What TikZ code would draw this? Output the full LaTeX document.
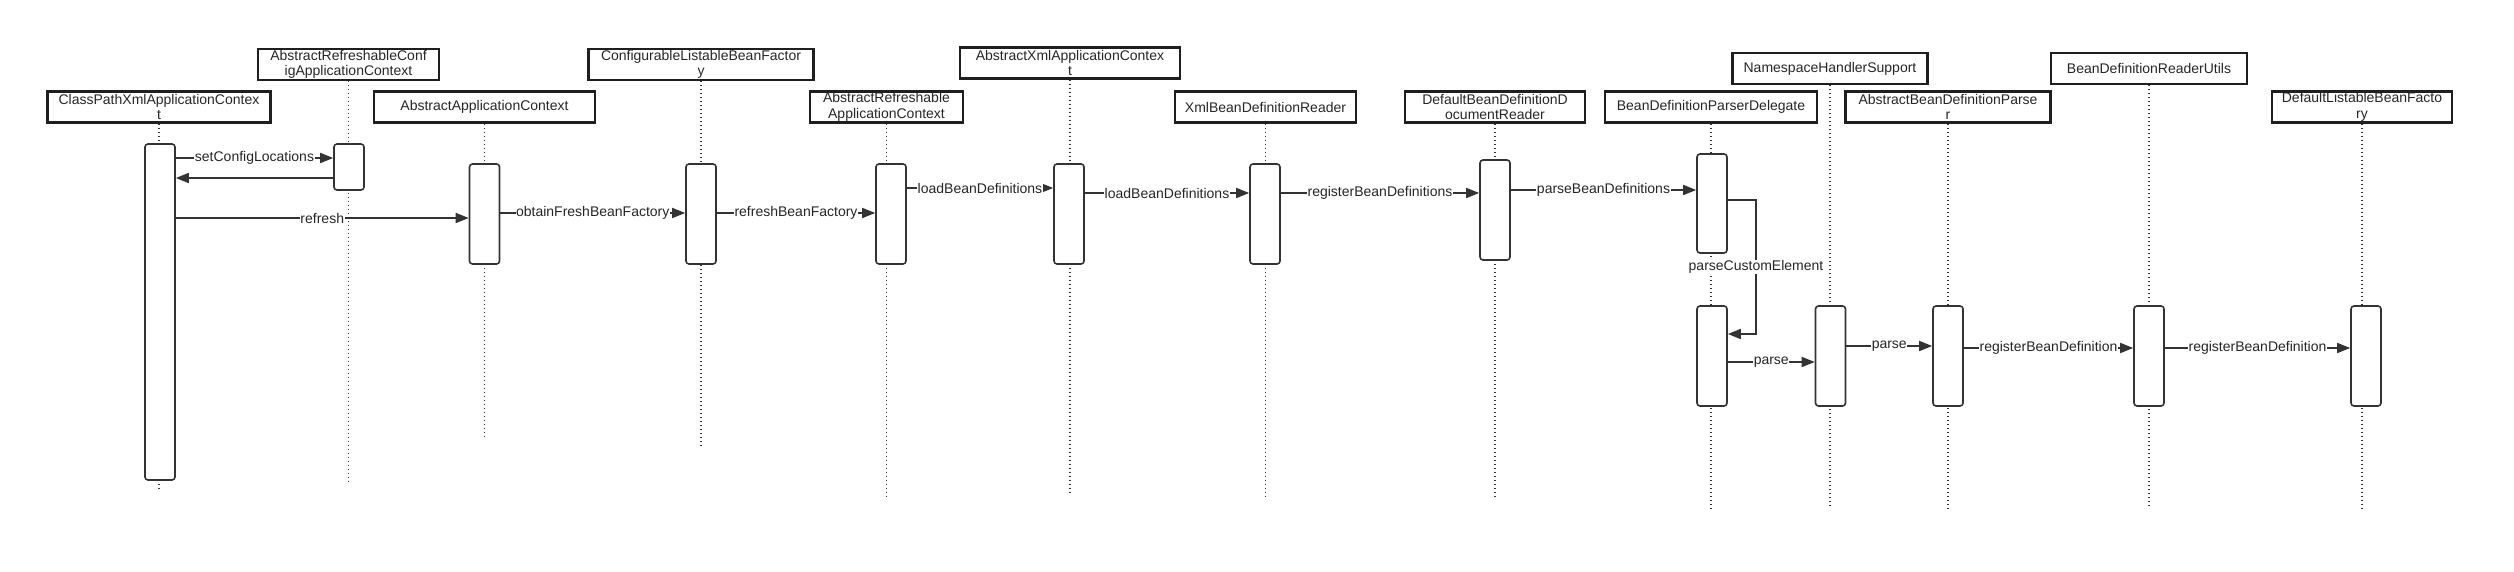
\documentclass[tikz,border=0pt]{standalone}
\usepackage{fontspec}
\setmainfont{Liberation Sans}
\usetikzlibrary{arrows.meta}

\definecolor{viiva}{HTML}{333333}

\begin{document}
\begin{tikzpicture}[x=1pt,y=-1pt,
  olio/.style={draw=black!88, line width=2.1pt, minimum height=31pt, inner sep=0pt, align=center, text=black!85, font=\fontsize{14}{15.5}\selectfont},
  palkki/.style={draw=viiva, fill=white, line width=1.6pt, rounded corners=3pt, minimum width=30pt, inner sep=0pt},
  elama/.style={draw=viiva, line width=1.4pt, dash pattern=on 1.4pt off 2.6pt},
  viesti/.style={draw=viiva, line width=1.7pt, -{Triangle[length=13pt,width=10pt]}},
  nimi/.style={fill=white, inner sep=0.5pt, text=black!85, font=\fontsize{14}{15.5}\selectfont}]
\useasboundingbox (0,0) rectangle (2514,572);
\newcommand\olio[6]{
\node[olio, minimum width=#4] (#1) at (#2,#3) {#5};
\path[elama] (#1.south) -- (#1.south |- 0,#6);
}
\newcommand\viesti[4]{
\path[viesti] (#2.east |- 0,#1) -- node[nimi] {#4} (#3.west |- 0,#1);
}
% luokat ja elamanviivat
\olio{o1}{159}{107}{223}{ClassPathXmlApplicationContex\\t}{488}
\olio{o2}{348.5}{64.5}{181}{AbstractRefreshableConf\\igApplicationContext}{482}
\olio{o3}{484.5}{107}{221}{AbstractApplicationContext}{439}
\olio{o4}{701}{64.5}{225}{ConfigurableListableBeanFactor\\y}{447}
\olio{o5}{886.5}{107}{153}{AbstractRefreshable\\ApplicationContext}{498}
\olio{o6}{1070}{63}{220}{AbstractXmlApplicationContex\\t}{494}
\olio{o7}{1265.5}{107}{181}{XmlBeanDefinitionReader}{498}
\olio{o8}{1495}{107}{180}{DefaultBeanDefinitionD\\ocumentReader}{498}
\olio{o9}{1711}{107}{212}{BeanDefinitionParserDelegate}{509}
\olio{o10}{1830}{68.5}{195}{NamespaceHandlerSupport}{509}
\olio{o11}{1948}{107}{205}{AbstractBeanDefinitionParse\\r}{509}
\olio{o12}{2149}{68.5}{196}{BeanDefinitionReaderUtils}{509}
\olio{o13}{2362}{107}{180}{DefaultListableBeanFacto\\ry}{509}
% aktivoinnit
\node[palkki, minimum height=336] (a1) at (160,312) {};
\node[palkki, minimum height=46] (a2) at (349,167) {};
\node[palkki, minimum height=100] (a3) at (484.5,214) {};
\node[palkki, minimum height=100] (a4) at (701,214) {};
\node[palkki, minimum height=100] (a5) at (891,214) {};
\node[palkki, minimum height=100] (a6) at (1069,214) {};
\node[palkki, minimum height=100] (a7) at (1265,214) {};
\node[palkki, minimum height=100] (a8) at (1495,210) {};
\node[palkki, minimum height=99] (a9) at (1712,203.5) {};
\node[palkki, minimum height=100] (a10) at (1712,356) {};
\node[palkki, minimum height=100] (a11) at (1830.5,356) {};
\node[palkki, minimum height=100] (a12) at (1948,356) {};
\node[palkki, minimum height=100] (a13) at (2149,356) {};
\node[palkki, minimum height=100] (a14) at (2366,356) {};
% viestit
\viesti{158}{a1}{a2}{setConfigLocations}
\path[viesti] (a2.west |- 0,178) -- (a1.east |- 0,178);
\viesti{218}{a1}{a3}{refresh}
\viesti{213}{a3}{a4}{obtainFreshBeanFactory}
\viesti{213}{a4}{a5}{refreshBeanFactory}
\viesti{188}{a5}{a6}{loadBeanDefinitions}
\viesti{193}{a6}{a7}{loadBeanDefinitions}
\viesti{193}{a7}{a8}{registerBeanDefinitions}
\viesti{190}{a8}{a9}{parseBeanDefinitions}
\coordinate (k1) at (1756,267);
\path[viesti] (a9.east |- 0,200) -| (k1) node[nimi] {parseCustomElement} |- (a10.east |- 0,334);
\viesti{362}{a10}{a11}{parse}
\viesti{346}{a11}{a12}{parse}
\viesti{348}{a12}{a13}{registerBeanDefinition}
\viesti{348}{a13}{a14}{registerBeanDefinition}
\end{tikzpicture}
\end{document}
